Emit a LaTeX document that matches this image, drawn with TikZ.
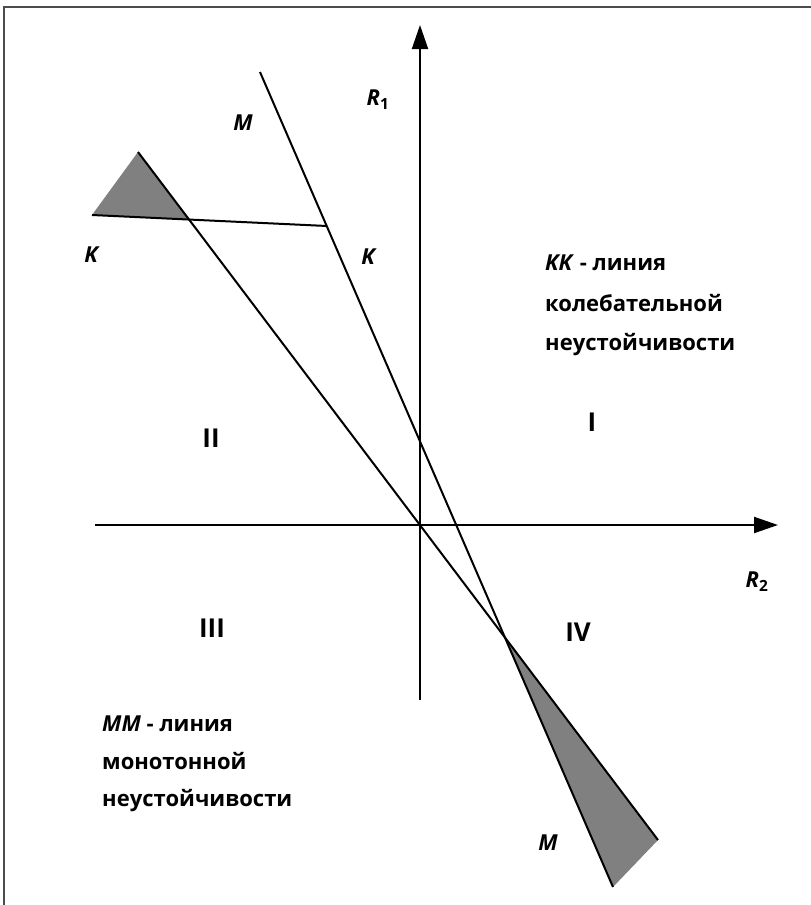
\documentclass[tikz,border=0pt]{standalone}
\usepackage{fontspec}
\setmainfont{Open Sans}
\usetikzlibrary{arrows.meta}
\begin{document}
\begin{tikzpicture}[x=1pt,y=-1pt,
  frame/.style={draw=black!70,line width=1.5pt},
  axis/.style={draw=black,line width=2pt,-{Triangle[length=24pt,width=16pt]}},
  curve/.style={draw=black,line width=2pt},
  shade/.style={fill=black!50},
  lbl/.style={font=\fontsize{22}{22}\selectfont\bfseries\itshape,inner sep=0pt},
  num/.style={font=\fontsize{26}{26}\selectfont\bfseries,inner sep=0pt},
  txt/.style={font=\fontsize{22}{22}\selectfont\bfseries,inner sep=0pt,anchor=base west}]
\useasboundingbox (0,0) rectangle (811,905);
\fill[white] (0,0) rectangle (811,905);
\draw[frame] (4,905) -- (4,7) -- (811,7);
% coordinates
\coordinate (O) at (420,525);
\coordinate (ytop) at (420,25);
\coordinate (ybot) at (420,700);
\coordinate (xl) at (95,525);
\coordinate (xr) at (778,525);
\coordinate (m1a) at (260,72);
\coordinate (m1b) at (613,887);
\coordinate (m2a) at (138,152);
\coordinate (m2b) at (658,840);
\coordinate (ka) at (92,215);
\coordinate (kb) at (327,226);
\coordinate (X) at (intersection of m1a--m1b and m2a--m2b);
\coordinate (kx) at (intersection of ka--kb and m2a--m2b);
% shaded regions
\fill[shade] (ka) -- (m2a) -- (kx) -- cycle;
\fill[shade] (X) -- (m2b) -- (m1b) -- cycle;
% lines
\draw[curve] (m1a) -- (m1b);
\draw[curve] (m2a) -- (m2b);
\draw[curve] (ka) -- (kb);
% axes
\draw[axis] (ybot) -- (ytop);
\draw[axis] (xl) -- (xr);
% labels
\node[lbl] (r1) at (378,100) {R\textsubscript{\upshape 1}};
\node[lbl] (r2) at (757,582) {R\textsubscript{\upshape 2}};
\node[lbl] (mtop) at (243,123) {M};
\node[lbl] (kleft) at (91,255) {K};
\node[lbl] (kright) at (368,257) {K};
\node[lbl] (mbot) at (548,843) {M};
\node[num] (q1) at (592,422) {I};
\node[num] (q2) at (211,438) {II};
\node[num] (q3) at (212,628) {III};
\node[num] (q4) at (578,632) {IV};
\node[txt] (kk1) at (545,270) {\textit{KK} - линия};
\node[txt] (kk2) at (545,311) {колебательной};
\node[txt] (kk3) at (545,350) {неустойчивости};
\node[txt] (mm1) at (102,731) {\textit{MM} - линия};
\node[txt] (mm2) at (102,769) {монотонной};
\node[txt] (mm3) at (102,806) {неустойчивости};
\end{tikzpicture}
\end{document}
